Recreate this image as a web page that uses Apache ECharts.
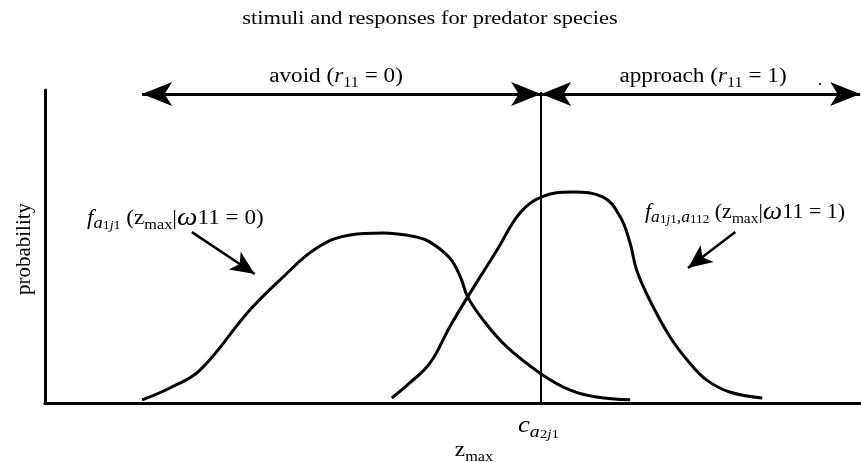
<!DOCTYPE html>
<html>
<head>
<meta charset="utf-8">
<script src="https://cdn.jsdelivr.net/npm/echarts@6/dist/echarts.min.js"></script>
<style>
  html, body { margin: 0; padding: 0; background: #fff; }
  #chart { width: 861px; height: 462px; }
</style>
</head>
<body>
<div id="chart"></div>
<script>
// density curves (z in 0..100, probability in 0..1)
const zAvoid = [11.9, 15.3, 19.0, 25.1, 29.2, 33.3, 37.4, 41.4, 45.6, 47.2, 49.6, 50.9, 51.8, 53.7, 56.6, 60.8, 64.3, 67.6, 71.7]
const pAvoid = [0.010, 0.048, 0.105, 0.297, 0.403, 0.495, 0.537, 0.543, 0.530, 0.514, 0.463, 0.403, 0.339, 0.265, 0.179, 0.093, 0.042, 0.019, 0.010]
const zApproach = [42.5, 44.7, 47.2, 49.6, 51.8, 55.4, 58.2, 60.8, 64.7, 68.4, 70.5, 71.7, 72.5, 74.1, 76.6, 79.0, 81.1, 83.9, 87.9]
const pApproach = [0.016, 0.064, 0.128, 0.243, 0.339, 0.489, 0.607, 0.658, 0.674, 0.658, 0.594, 0.511, 0.425, 0.329, 0.211, 0.128, 0.073, 0.035, 0.016]

// threshold c and the two response ranges
const threshold = 60.8
const thresholdTop = 0.994
const arrowLevel = 0.987
const avoidRange = [11.9, 60.8]
const approachRange = [60.8, 99.9]
// pointer arrows next to the curve labels: [start, head]
const avoidPointer = [[18.0, 0.546], [25.7, 0.412]]
const approachPointer = [[84.6, 0.546], [78.8, 0.431]]

const SERIF = '"Liberation Serif", "Times New Roman", serif'
const pairs = (xs, ys) => xs.map((x, i) => [x, ys[i]])

const tok = (size, lh, extra) => Object.assign({ fontSize: size, lineHeight: lh, fontFamily: SERIF, fill: '#000' }, extra || {})
const rich = {
  n: tok(20, 26),
  i: tok(20, 26, { fontStyle: 'italic' }),
  s: tok(14, 16, { verticalAlign: 'bottom' }),
  s0: tok(14, 22, { verticalAlign: 'bottom' }),
  si: tok(16, 20, { verticalAlign: 'bottom', fontStyle: 'italic' }),
  ss: tok(12, 14, { verticalAlign: 'bottom' }),
  ssi: tok(12, 14, { verticalAlign: 'bottom', fontStyle: 'italic' }),
  w: tok(25, 23, { verticalAlign: 'top', fontStyle: 'italic' }),
  ci: tok(23, 30, { fontStyle: 'italic' }),
  ca: tok(17, 14, { verticalAlign: 'bottom', fontStyle: 'italic' }),
  cs: tok(13, 6, { verticalAlign: 'bottom' }),
  csi: tok(13, 6, { verticalAlign: 'bottom', fontStyle: 'italic' })
}

const STRETCH = 1.16
const label = (x, y, text, align, extra) => Object.assign({
  type: 'text', x: x, y: y, scaleX: STRETCH, silent: true,
  style: { text: text, rich: rich, align: align, verticalAlign: 'middle', fontFamily: SERIF, fontSize: 20, fill: '#000' }
}, extra || {})

const chart = echarts.init(document.getElementById('chart'))

const lineStyle = { color: '#000', width: 3 }

chart.setOption({
  animation: false,
  backgroundColor: '#fff',
  grid: { left: 45, right: 0, top: 90, bottom: 59 },
  xAxis: {
    type: 'value', min: 0, max: 100,
    axisLine: { show: true, onZero: false, lineStyle: { color: '#000', width: 3 } },
    axisTick: { show: false }, axisLabel: { show: false }, splitLine: { show: false }
  },
  yAxis: {
    type: 'value', min: 0, max: 1,
    axisLine: { show: true, onZero: false, lineStyle: { color: '#000', width: 3 } },
    axisTick: { show: false }, axisLabel: { show: false }, splitLine: { show: false }
  },
  series: [
    {
      name: 'avoid', type: 'line', smooth: 0.4, showSymbol: false,
      data: pairs(zAvoid, pAvoid), lineStyle: lineStyle
    },
    {
      name: 'approach', type: 'line', smooth: 0.4, showSymbol: false,
      data: pairs(zApproach, pApproach), lineStyle: lineStyle
    },
    {
      name: 'guides', type: 'line', data: [],
      markLine: {
        silent: true,
        label: { show: false },
        symbol: ['arrow', 'arrow'],
        symbolSize: [18, 30],
        lineStyle: { color: '#000', width: 3, type: 'solid' },
        data: [
          [{ coord: [avoidRange[0], arrowLevel] }, { coord: [avoidRange[1], arrowLevel] }],
          [{ coord: [approachRange[0], arrowLevel] }, { coord: [approachRange[1], arrowLevel] }],
          [{ coord: [threshold, 0], symbol: 'none', lineStyle: { width: 2 } },
           { coord: [threshold, thresholdTop], symbol: 'none' }],
          [{ coord: avoidPointer[0], symbol: 'none', lineStyle: { width: 2.5 } },
           { coord: avoidPointer[1], symbol: 'arrow', symbolSize: [16, 24] }],
          [{ coord: approachPointer[0], symbol: 'none', lineStyle: { width: 2.5 } },
           { coord: approachPointer[1], symbol: 'arrow', symbolSize: [16, 24] }]
        ]
      }
    }
  ],
  graphic: [
    label(430, 19, '', 'center', { scaleX: 1.18, style: { text: 'stimuli and responses for predator species', align: 'center', verticalAlign: 'middle', fontFamily: SERIF, fontSize: 19, fill: '#000' } }),
    label(336, 77, '{n|avoid (}{i|r}{s|11}{n| = 0)}', 'center'),
    label(703, 77, '{n|approach (}{i|r}{s|11}{n| = 1)}', 'center'),
    label(820, 81, '', 'center', { style: { text: '.', align: 'center', verticalAlign: 'middle', fontFamily: SERIF, fontSize: 16, fill: '#000' } }),
    label(87, 219, '{i|f}{si|a}{ss|1}{ssi|j}{ss|1}{n| (z}{s0|max}{n||}{w|ω}{n|11 = 0)}', 'left'),
    label(645, 213, '{i|f}{si|a}{ss|1}{ssi|j}{ss|1}{si|,a}{ss|112}{n| (z}{s0|max}{n||}{w|ω}{n|11 = 1)}', 'left', { scaleX: 1.1 }),
    label(518, 426, '{ci|c}{ca|a}{cs|2}{csi|j}{cs|1}', 'left'),
    label(474, 451, '{n|z}{s0|max}', 'center'),
    {
      type: 'text', x: 24, y: 249, rotation: Math.PI / 2, silent: true,
      style: { text: 'probability', align: 'center', verticalAlign: 'middle', fontFamily: SERIF, fontSize: 21, fill: '#000' }
    }
  ]
})

window.addEventListener('resize', function () {
  chart.resize()
})
</script>
</body>
</html>
